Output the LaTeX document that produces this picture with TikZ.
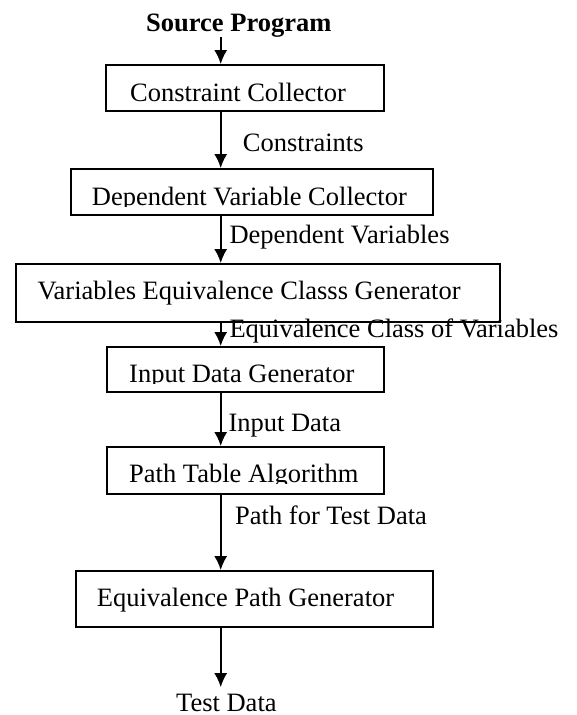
\documentclass[tikz,border=0pt]{standalone}
\usepackage{fontspec}
\setmainfont{Liberation Serif}
\usetikzlibrary{arrows.meta}

\begin{document}
\begin{tikzpicture}[x=1pt, y=-1pt, >={Latex[length=14pt, width=13pt]},
    box/.style={draw, line width=1.8pt, inner sep=0pt},
    txt/.style={anchor=base west, inner sep=0pt, font=\fontsize{26.5}{30}\selectfont},
    flow/.style={->, line width=1.8pt}]
  \useasboundingbox (0,0) rectangle (576,715);
  \coordinate (spine) at (220.7,0);

  \node[txt, font=\fontsize{26.5}{30}\selectfont\bfseries] (src) at (146,31) {Source Program};

  % the six boxes
  \node[box, minimum width=278pt, minimum height=46pt]  (cc)   at (245,88)    {};
  \node[box, minimum width=362pt, minimum height=46pt]  (dvc)  at (252,192)   {};
  \node[box, minimum width=484pt, minimum height=58pt]  (vecg) at (258,293)   {};
  \node[box, minimum width=277pt, minimum height=45pt]  (idg)  at (245.5,369.5) {};
  \node[box, minimum width=277pt, minimum height=47pt]  (pta)  at (245.5,470.5) {};
  \node[box, minimum width=357pt, minimum height=56pt]  (epg)  at (254.5,599) {};

  \node[txt] (cctext) at (130,101) {Constraint Collector};
  \begin{scope}
    \clip (0,0) rectangle (576,206);
    \node[txt] (dvctext) at (91.7,205) {Dependent Variable Collector};
  \end{scope}
  \node[txt] (vecgtext) at (37.3,299.5) {Variables Equivalence Classs Generator};
  \begin{scope}
    \clip (0,0) rectangle (576,383.5);
    \node[txt] (idgtext) at (129,382.5) {Input Data Generator};
  \end{scope}
  \begin{scope}
    \clip (0,0) rectangle (576,483.5);
    \node[txt] (ptatext) at (129,482.5) {Path Table Algorithm};
  \end{scope}
  \node[txt] (epgtext) at (96.7,606.7) {Equivalence Path Generator};

  \node[txt] (td) at (176,711.7) {Test Data};

  % labels on the arrows
  \node[txt] (lcon)  at (242.7,151.7) {Constraints};
  \node[txt] (ldep)  at (229.3,243.3) {Dependent Variables};
  \node[txt] (leq)   at (229.3,337.3) {Equivalence Class of Variables};
  \node[txt] (lin)   at (228.3,431.7) {Input Data};
  \node[txt] (lpath) at (235,524)     {Path for Test Data};

  \draw[flow] (src.south -| spine) -- (cc.north -| spine);
  \draw[flow] (cc.south -| spine) -- (dvc.north -| spine);
  \draw[flow] (dvc.south -| spine) -- (vecg.north -| spine);
  \draw[flow] (vecg.south -| spine) -- (idg.north -| spine);
  \draw[flow] (idg.south -| spine) -- (pta.north -| spine);
  \draw[flow] (pta.south -| spine) -- (epg.north -| spine);
  \draw[flow, shorten >=7pt] (epg.south -| spine) -- (td.north -| spine);
\end{tikzpicture}
\end{document}
